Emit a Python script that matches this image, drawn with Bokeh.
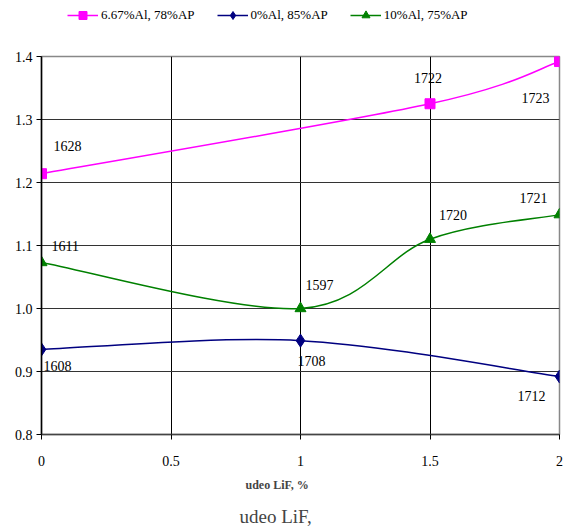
from bokeh.plotting import figure
from bokeh.layouts import column
from bokeh.models import (Legend, LegendItem, Title, FixedTicker, ColumnDataSource)
from bokeh.core.properties import value
from bokeh.embed import file_html
from bokeh.resources import INLINE

# ---- data ----
x_mag = [0, 1.5, 2]
y_mag = [1.214, 1.325, 1.392]
lab_mag = ["1628", "1722", "1723"]

x_blue = [0, 1, 2]
y_blue = [0.935, 0.949, 0.892]
lab_blue = ["1608", "1708", "1712"]

x_green = [0, 1, 1.5, 2]
y_green = [1.073, 1.000, 1.110, 1.149]
lab_green = ["1611", "1597", "1720", "1721"]

names = ["6.67%Al, 78%AP", "0%Al, 85%AP", "10%Al, 75%AP"]
x_ticks = [0, 0.5, 1, 1.5, 2]
y_ticks = [0.8, 0.9, 1.0, 1.1, 1.2, 1.3, 1.4]
x_title = "udeo LiF, %"
caption = "udeo LiF,"

# label offsets (screen px) - style only
off_mag = [(12, 28), (-16, 26), (-38, -36)]
off_blue = [(2, -17), (-3, -20), (-42, -19)]
off_green = [(10, 17), (5, 24), (9, 24), (-40, 17)]

FONT = "Liberation Serif"
LEG_H = 36

# ---- legend strip (its ranges keep the legend-only glyphs out of view) ----
pl = figure(width=569, height=LEG_H, x_range=(100, 101), y_range=(100, 101),
            output_backend="svg", toolbar_location=None,
            min_border_left=0, min_border_right=0, min_border_top=0,
            min_border_bottom=0)
pl.axis.visible = False
pl.grid.visible = False
pl.outline_line_color = None

# ---- main plot ----
p = figure(width=569, height=530 - LEG_H, x_range=(0, 2), y_range=(0.8, 1.4),
           output_backend="svg", toolbar_location=None,
           min_border_left=41, min_border_right=10, min_border_top=56 - LEG_H,
           min_border_bottom=96, background_fill_color="white",
           border_fill_color="white")
p.outline_line_color = "#888888"
p.outline_line_width = 1.5

p.xaxis.ticker = FixedTicker(ticks=x_ticks)
p.yaxis.ticker = FixedTicker(ticks=y_ticks)
p.xaxis.major_label_overrides = {t: ("%g" % t) for t in x_ticks}
p.yaxis.major_label_overrides = {t: ("%.1f" % t) for t in y_ticks}
for ax in (p.xaxis, p.yaxis):
    ax.major_label_text_font = FONT
    ax.major_label_text_font_size = "14px"
    ax.major_label_text_color = "black"
    ax.axis_line_color = "black"
    ax.major_tick_line_color = "black"
    ax.major_tick_in = 0
    ax.major_tick_out = 5
    ax.minor_tick_line_color = None
p.xaxis.axis_line_color = "#444444"
p.xaxis.axis_line_width = 1.5
p.xaxis.major_label_standoff = 16
p.yaxis.major_label_standoff = 4
p.yaxis.axis_line_width = 1.5
p.xgrid.grid_line_color = "black"
p.ygrid.grid_line_color = "#333333"
p.xgrid.grid_line_width = 1
p.ygrid.grid_line_width = 1.2


def bez(xs, ys):
    n = len(xs)
    x0, y0, x1, y1, cx0, cy0, cx1, cy1 = [], [], [], [], [], [], [], []
    for i in range(n - 1):
        im1 = max(i - 1, 0)
        ip2 = min(i + 2, n - 1)
        x0.append(xs[i]); y0.append(ys[i])
        x1.append(xs[i + 1]); y1.append(ys[i + 1])
        cx0.append(xs[i] + (xs[i + 1] - xs[im1]) / 6)
        cy0.append(ys[i] + (ys[i + 1] - ys[im1]) / 6)
        cx1.append(xs[i + 1] - (xs[ip2] - xs[i]) / 6)
        cy1.append(ys[i + 1] - (ys[ip2] - ys[i]) / 6)
    return dict(x0=x0, y0=y0, x1=x1, y1=y1, cx0=cx0, cy0=cy0, cx1=cx1, cy1=cy1)


series = [
    (x_mag, y_mag, lab_mag, off_mag, "#FF00FF", "square", 10),
    (x_blue, y_blue, lab_blue, off_blue, "#000080", "diamond", 13),
    (x_green, y_green, lab_green, off_green, "#008000", "triangle", 11),
]

items = []
for (xs, ys, labs, offs, col, mk, sz), nm in zip(series, names):
    p.bezier(source=ColumnDataSource(bez(xs, ys)), x0="x0", y0="y0", x1="x1", y1="y1",
             cx0="cx0", cy0="cy0", cx1="cx1", cy1="cy1", line_color=col, line_width=1.5)
    p.scatter(xs, ys, marker=mk, size=sz, fill_color=col, line_color=col)
    p.text(x=xs, y=ys, text=labs, x_offset=[o[0] for o in offs],
           y_offset=[-o[1] for o in offs], text_font=value(FONT),
           text_font_size="14px", text_color="black",
           text_baseline="middle", text_align="left")
    # legend-only renderers (same data, out of the strip's view)
    ln = pl.line(xs, ys, line_color=col, line_width=1.5)
    sc = pl.scatter(xs, ys, marker=mk, size=sz, fill_color=col, line_color=col)
    items.append(LegendItem(label=nm, renderers=[ln, sc]))

legend = Legend(items=items, orientation="horizontal", location=(26, LEG_H - 25),
                padding=0, margin=0, spacing=22, glyph_width=31, glyph_height=20,
                label_standoff=3, border_line_color=None,
                background_fill_alpha=0, label_text_font=FONT,
                label_text_font_size="13px", label_text_color="black")
pl.add_layout(legend, "center")

p.add_layout(Title(text=x_title, text_font=FONT, text_font_size="12px",
                   text_font_style="bold", align="left", offset=204,
                   standoff=15), "below")
p.add_layout(Title(text=caption, text_font=FONT, text_font_size="19px",
                   text_font_style="normal", align="left", offset=198,
                   standoff=8), "below")

layout = column(pl, p, spacing=0)
open("out.html", "w").write(file_html(layout, INLINE))
